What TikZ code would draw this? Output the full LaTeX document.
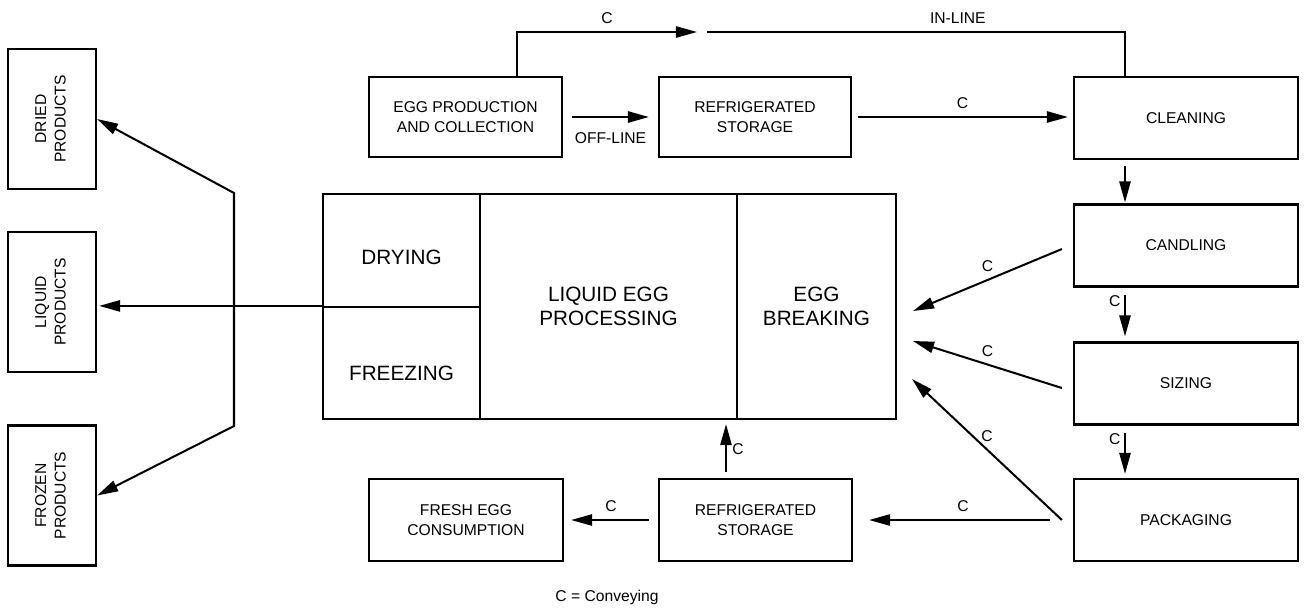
\documentclass[tikz,border=0pt]{standalone}
\usepackage{fontspec}
\setmainfont{Liberation Sans}
\usetikzlibrary{arrows.meta}

\begin{document}
\begin{tikzpicture}[line width=1.15pt,
  eggtip/.tip={Triangle[length=12pt,width=6.4pt]},
  arr/.style={-eggtip},
  box/.style={draw,line width=1.25pt,align=center,inner sep=0pt,
    font=\fontsize{8.9}{11}\selectfont},
  stage/.style={box,minimum width=4.48cm,minimum height=1.64cm},
  prodbox/.style={box,minimum width=1.76cm,minimum height=2.8cm},
  big/.style={box,font=\fontsize{11.8}{13.5}\selectfont},
  lbl/.style={font=\fontsize{8.9}{11}\selectfont,inner sep=4pt}]
  \useasboundingbox (0,0) rectangle (26.12,-12.26);

  % top row
  \node[box,minimum width=3.86cm,minimum height=1.6cm] (prod) at (9.31,-2.34) {EGG PRODUCTION\\AND COLLECTION};
  \node[box,minimum width=3.84cm,minimum height=1.6cm] (store1) at (15.10,-2.34) {REFRIGERATED\\STORAGE};

  % right column
  \node[stage] (clean) at (23.72,-2.36) {CLEANING};
  \node[stage] (cand) at (23.72,-4.91) {CANDLING};
  \node[stage] (sizing) at (23.72,-7.67) {SIZING};
  \node[stage] (pack) at (23.72,-10.40) {PACKAGING};

  % bottom row
  \node[box,minimum width=3.86cm,minimum height=1.64cm] (store2) at (15.11,-10.40) {REFRIGERATED\\STORAGE};
  \node[box,minimum width=3.88cm,minimum height=1.64cm] (fresh) at (9.32,-10.40) {FRESH EGG\\CONSUMPTION};

  % processing block
  \node[big,minimum width=3.14cm,minimum height=2.26cm,text height=0.54cm,text depth=0pt] (drying) at (8.03,-5.01) {DRYING};
  \node[big,minimum width=3.14cm,minimum height=2.24cm,text height=0.70cm,text depth=0pt] (freezing) at (8.03,-7.26) {FREEZING};
  \node[big,minimum width=5.14cm,minimum height=4.5cm] (proc) at (12.17,-6.13) {LIQUID EGG\\PROCESSING};
  \node[big,minimum width=3.18cm,minimum height=4.5cm] (brk) at (16.33,-6.13) {EGG\\BREAKING};

  % products
  \node[prodbox] (dried) at (1.04,-2.38) {\rotatebox{90}{\begin{tabular}{@{}c@{}}DRIED\\PRODUCTS\end{tabular}}};
  \node[prodbox] (liquid) at (1.04,-6.04) {\rotatebox{90}{\begin{tabular}{@{}c@{}}LIQUID\\PRODUCTS\end{tabular}}};
  \node[prodbox] (frozen) at (1.04,-9.91) {\rotatebox{90}{\begin{tabular}{@{}c@{}}FROZEN\\PRODUCTS\end{tabular}}};

  \node[lbl] (legend) at (12.14,-11.94) {C = Conveying};

  % in-line route over the top
  \coordinate (up1) at (10.34,-0.64);
  \coordinate (gap1) at (13.94,-0.64);
  \coordinate (gap2) at (14.14,-0.64);
  \coordinate (up2) at (22.50,-0.64);
  \draw[arr] (prod.north -| up1) -- (up1) -- (gap1) node[lbl,midway,above] {C};
  \draw (gap2) -- (up2) node[lbl,pos=0.6,above] {IN-LINE} -- (clean.north -| up2);

  % off-line route
  \draw[arr,shorten <=0.18cm,shorten >=0.18cm] (prod) -- (store1) node[lbl,midway,below,yshift=-0.16cm] {OFF-LINE};
  \draw[arr,shorten <=0.12cm,shorten >=0.1cm] (store1.east) -- (store1.east -| clean.west) node[lbl,midway,above] {C};

  % down the right column
  \draw[arr,shorten <=0.12cm,shorten >=0.02cm] (clean.south -| up2) -- (cand.north -| up2);
  \draw[arr,shorten <=0.14cm,shorten >=0.1cm] (cand.south -| up2) -- (sizing.north -| up2) node[lbl,pos=0.25,left,inner sep=2pt] {C};
  \draw[arr,shorten <=0.14cm,shorten >=0.08cm] (sizing.south -| up2) -- (pack.north -| up2) node[lbl,pos=0.25,left,inner sep=2pt] {C};

  % into egg breaking
  \coordinate (in1) at (18.26,-6.22);
  \coordinate (in2) at (18.26,-6.82);
  \coordinate (in3) at (18.24,-7.58);
  \draw[arr] ([xshift=-0.22cm,yshift=-0.07cm]cand.west) -- (in1) node[lbl,midway,above] {C};
  \draw[arr] ([xshift=-0.22cm,yshift=-0.09cm]sizing.west) -- (in2) node[lbl,midway,above] {C};
  \draw[arr] ([xshift=-0.22cm]pack.west) -- (in3) node[lbl,midway,above] {C};

  % packaging to storage and on
  \draw[arr,shorten <=0.46cm,shorten >=0.32cm] (pack) -- (store2) node[lbl,midway,above] {C};
  \draw[arr,shorten <=0.18cm,shorten >=0.14cm] (store2) -- (fresh) node[lbl,midway,above] {C};
  \coordinate (up3) at (14.52,-9.5);
  \draw[arr,shorten <=0.12cm,shorten >=0.08cm] (store2.north -| up3) -- (proc.south -| up3) node[lbl,midway,right,inner sep=3pt] {C};

  % out to the products
  \coordinate (fork1) at (4.68,-3.86);
  \coordinate (fork2) at (4.68,-8.52);
  \draw[arr,shorten >=0.04cm] (freezing.north west) -- (liquid.east |- freezing.north west);
  \draw[eggtip-eggtip] (dried.east) -- (fork1) -- (fork2) -- (frozen.east);
\end{tikzpicture}
\end{document}
